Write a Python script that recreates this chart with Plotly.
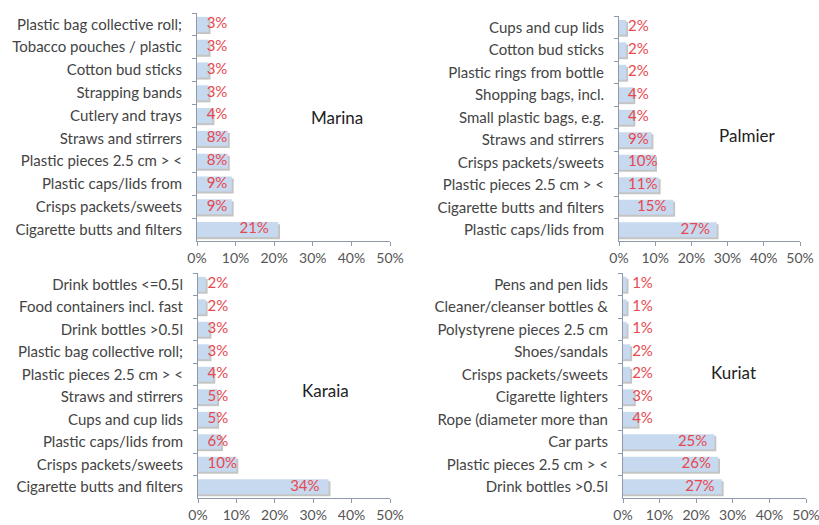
import plotly.graph_objects as go

# ---- data (top-to-bottom order as shown) ----
marina_cats = ["Plastic bag collective roll;", "Tobacco pouches / plastic", "Cotton bud sticks",
               "Strapping bands", "Cutlery and trays", "Straws and stirrers",
               "Plastic pieces 2.5 cm > <", "Plastic caps/lids from", "Crisps packets/sweets",
               "Cigarette butts and filters"]
marina_vals = [3, 3, 3, 3, 4, 8, 8, 9, 9, 21]

palmier_cats = ["Cups and cup lids", "Cotton bud sticks", "Plastic rings from bottle",
                "Shopping bags, incl.", "Small plastic bags, e.g.", "Straws and stirrers",
                "Crisps packets/sweets", "Plastic pieces 2.5 cm > <", "Cigarette butts and filters",
                "Plastic caps/lids from"]
palmier_vals = [2, 2, 2, 4, 4, 9, 10, 11, 15, 27]

karaia_cats = ["Drink bottles <=0.5l", "Food containers incl. fast", "Drink bottles >0.5l",
               "Plastic bag collective roll;", "Plastic pieces 2.5 cm > <", "Straws and stirrers",
               "Cups and cup lids", "Plastic caps/lids from", "Crisps packets/sweets",
               "Cigarette butts and filters"]
karaia_vals = [2, 2, 3, 3, 4, 5, 5, 6, 10, 34]

kuriat_cats = ["Pens and pen lids", "Cleaner/cleanser bottles &", "Polystyrene pieces 2.5 cm",
               "Shoes/sandals", "Crisps packets/sweets", "Cigarette lighters",
               "Rope (diameter more than", "Car parts", "Plastic pieces 2.5 cm > <",
               "Drink bottles >0.5l"]
kuriat_vals = [1, 1, 1, 2, 2, 3, 4, 25, 26, 27]

panel_names = ["Marina", "Palmier", "Karaia", "Kuriat"]
x_ticks = [0, 10, 20, 30, 40, 50]
x_tick_labels = ["0%", "10%", "20%", "30%", "40%", "50%"]

panels = [
    (marina_cats, marina_vals),
    (palmier_cats, palmier_vals),
    (karaia_cats, karaia_vals),
    (kuriat_cats, kuriat_vals),
]

W, H = 819, 525
# plot areas in pixels: (x0, x1, ytop, ybottom)
areas = [(197, 390, 13, 241), (619, 800, 16, 241), (198, 390, 273, 498), (623, 806, 273, 498)]
title_pos = [(337, 118), (747, 136), (325, 390), (733, 372)]

BAR = "#c6d9ee"
SHADOW = "#c4c4c4"
RED = "#e8474f"
AXIS = "#8c9aab"
FONT = "Lato"

fig = go.Figure()
bw = 0.66
for i, (cats, vals) in enumerate(panels):
    xa = "x" if i == 0 else f"x{i+1}"
    ya = "y" if i == 0 else f"y{i+1}"
    # shadow
    fig.add_trace(go.Bar(
        y=cats, x=[v + 0.5 for v in vals], orientation="h", width=bw, offset=-bw / 2 + 0.09,
        marker=dict(color=SHADOW, line=dict(width=0)), xaxis=xa, yaxis=ya,
        hoverinfo="skip", showlegend=False))
    fig.add_trace(go.Bar(
        y=cats, x=vals, orientation="h", width=bw, offset=-bw / 2,
        marker=dict(color=BAR, line=dict(width=0)), xaxis=xa, yaxis=ya,
        showlegend=False))
    fig.add_trace(go.Scatter(
        y=cats, x=[max(v - 10, 2.5) for v in vals], mode="text",
        text=[f"{v}%" for v in vals], textposition="middle right",
        textfont=dict(color=RED, size=15, family=FONT),
        xaxis=xa, yaxis=ya, hoverinfo="skip", showlegend=False, cliponaxis=False))

    x0, x1, yt, yb = areas[i]
    suffix = "" if i == 0 else str(i + 1)
    fig.layout["xaxis" + suffix] = dict(
        domain=[x0 / W, x1 / W], anchor=ya, range=[0, 50],
        tickvals=x_ticks, ticktext=x_tick_labels, showgrid=False, zeroline=False,
        showline=True, linecolor=AXIS, linewidth=1, ticks="outside", ticklen=4,
        tickcolor=AXIS, tickfont=dict(size=14, color="#555555", family=FONT),
        ticklabeloverflow="allow", automargin=False, fixedrange=True)
    fig.layout["yaxis" + suffix] = dict(
        domain=[1 - yb / H, 1 - yt / H], anchor=xa, autorange="reversed",
        type="category", showgrid=False, zeroline=False, showline=True,
        linecolor=AXIS, linewidth=1, ticks="outside", ticklen=4, tickcolor=AXIS,
        tickson="boundaries", ticklabelstandoff=11, automargin=False,
        tickfont=dict(size=15, color="#444444", family=FONT), fixedrange=True)
    tx, ty = title_pos[i]
    fig.add_annotation(x=tx / W, y=1 - ty / H, xref="paper", yref="paper",
                       xanchor="center", yanchor="middle",
                       text=panel_names[i], showarrow=False,
                       font=dict(size=17, color="#222222", family=FONT))

fig.update_layout(
    width=W, height=H, margin=dict(l=0, r=0, t=0, b=0, pad=0),
    paper_bgcolor="white", plot_bgcolor="white", barmode="overlay",
    font=dict(family=FONT))

fig.write_html("out.html", config={"displayModeBar": False},
               post_script="document.body.style.margin='0';document.body.style.overflow='hidden';")
